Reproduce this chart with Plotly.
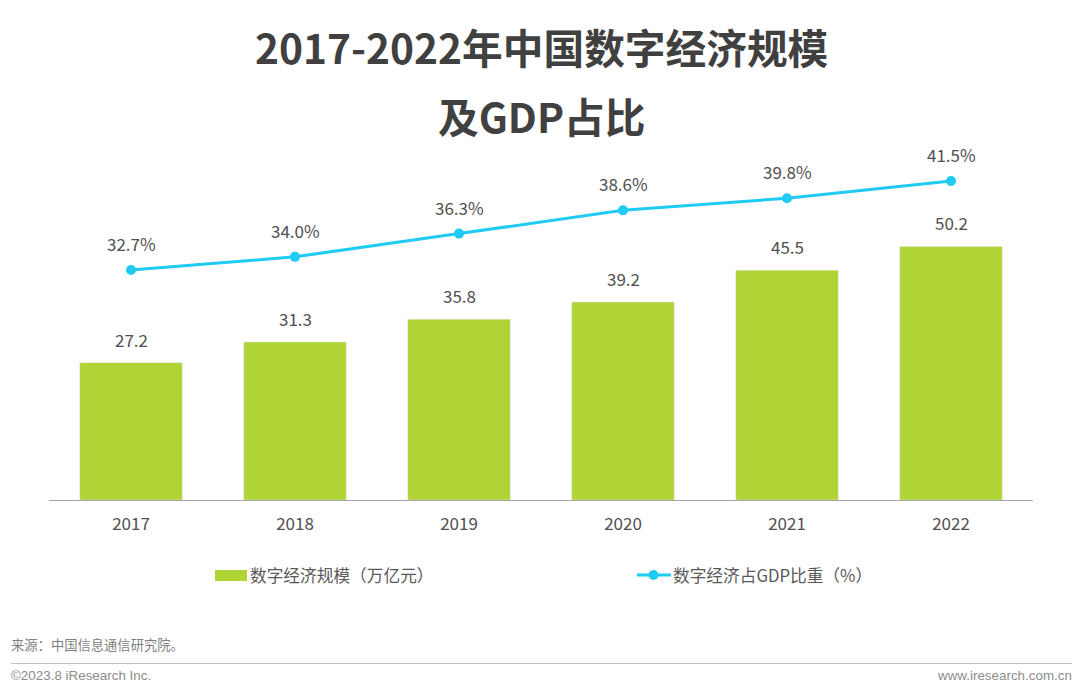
import plotly.graph_objects as go

years = ["2017", "2018", "2019", "2020", "2021", "2022"]
scale = [27.2, 31.3, 35.8, 39.2, 45.5, 50.2]
share = [32.7, 34.0, 36.3, 38.6, 39.8, 41.5]
scale_name = "数字经济规模（万亿元）"
share_name = "数字经济占GDP比重（%）"
title_lines = ["2017-2022年中国数字经济规模", "及GDP占比"]
source_text = "来源：中国信息通信研究院。"
copyright_text = "©2023.8 iResearch Inc."
site_text = "www.iresearch.com.cn"

CJK = "Noto Sans CJK SC"
W, H = 1080, 691
ML, MR, MT, MB = 49, 47, 150, 191
GREEN = "#B0D335"
CYAN = "#1FCBF2"
TXT = "#404040"
LBL = "#505050"

fig = go.Figure()
fig.add_trace(go.Bar(x=years, y=scale, name=scale_name, marker_color=GREEN, width=0.625,
                     yaxis="y", hoverinfo="x+y"))
fig.add_trace(go.Scatter(x=years, y=share, name=share_name, mode="lines+markers",
                         line=dict(color=CYAN, width=3), marker=dict(color=CYAN, size=10),
                         cliponaxis=False, yaxis="y2"))

fig.update_layout(
    width=W, height=H, autosize=False, paper_bgcolor="white", plot_bgcolor="white",
    margin=dict(l=ML, r=MR, t=MT, b=MB), bargap=0.375, showlegend=False,
    font=dict(family=CJK, color=TXT),
    xaxis=dict(type="category", categoryorder="array", categoryarray=years, range=[-0.5, 5.5],
               showline=True, linecolor="#A6A6A6", linewidth=1, ticks="",
               ticklabelstandoff=9, tickfont=dict(size=17, color=LBL, family=CJK), showgrid=False),
    yaxis=dict(range=[0, 69.3], visible=False, showgrid=False),
    yaxis2=dict(range=[9.95, 44.57], visible=False, overlaying="y", showgrid=False),
)

# Value labels, anchored to the data (category index on the x axis)
for i, v in enumerate(scale):
    fig.add_annotation(x=i, y=v, xref="x", yref="y", text=f"{v:.1f}", showarrow=False,
                       yanchor="bottom", yshift=9, font=dict(size=17, color=LBL, family=CJK))
for i, v in enumerate(share):
    fig.add_annotation(x=i, y=v, xref="x", yref="y2", text=f"{v:.1f}%", showarrow=False,
                       yanchor="bottom", yshift=12, font=dict(size=17, color=LBL, family=CJK))

pw = W - ML - MR
ph = H - MT - MB
def dx(v): return (v - ML) / pw
def dy(v): return 1 - (v - MT) / ph

fig.add_shape(type="rect", xref="paper", yref="paper", x0=dx(215), x1=dx(247), y0=dy(581), y1=dy(570),
              fillcolor=GREEN, line_width=0)
fig.add_shape(type="line", xref="paper", yref="paper", x0=dx(637), x1=dx(671), y0=dy(575), y1=dy(575),
              line=dict(color=CYAN, width=3))
fig.add_shape(type="circle", xref="paper", yref="paper", x0=dx(648.5), x1=dx(658.5), y0=dy(580), y1=dy(570),
              fillcolor=CYAN, line_width=0)
fig.add_shape(type="line", xref="paper", yref="paper", x0=dx(11), x1=dx(1072), y0=dy(663.5), y1=dy(663.5),
              line=dict(color="#BFBFBF", width=1))

def note(t, x, y, size, anchor="left", color=TXT, family=CJK, weight="normal"):
    fig.add_annotation(text=t, xref="paper", yref="paper", x=dx(x), y=dy(y), xanchor=anchor, yanchor="middle",
                       showarrow=False, font=dict(size=size, color=color, family=family, weight=weight))

note(title_lines[0], 541, 46, 40.7, anchor="center", weight="bold")
note(title_lines[1], 541, 116, 40.7, anchor="center", weight="bold")
note(scale_name, 248, 575, 16.7, color="#595959")
note(share_name, 671, 575, 16.7, color="#595959")
note(source_text, 9, 644, 13.3, color="#7F7F7F")
note(copyright_text, 9, 675, 13.4, color="#8C8C8C", family="Liberation Sans")
note(site_text, 1074, 675, 13.4, anchor="right", color="#8C8C8C", family="Liberation Sans")

fig.write_html("out.html", config={"displayModeBar": False}, post_script="document.body.style.margin='0';")
